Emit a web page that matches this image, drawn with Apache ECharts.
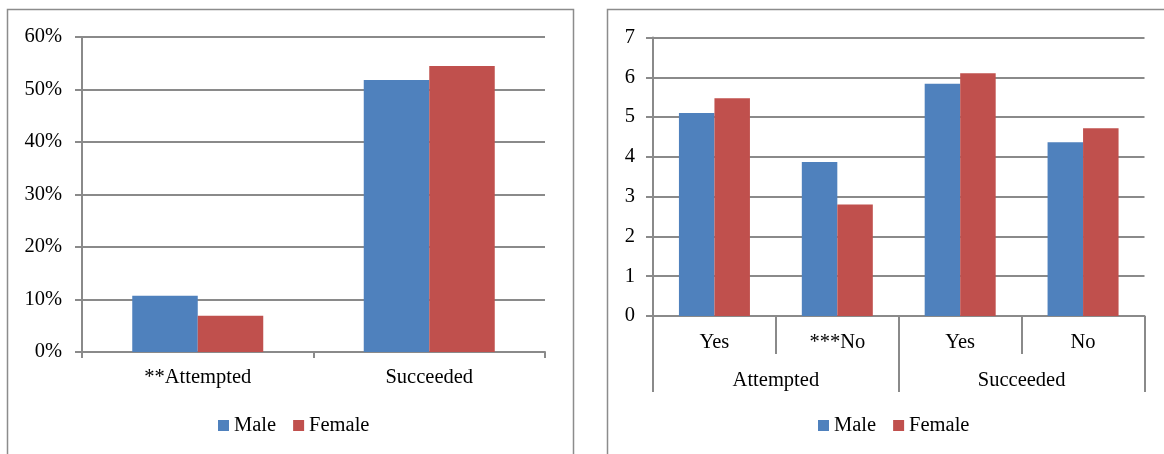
<!DOCTYPE html>
<html>
<head>
<meta charset="utf-8">
<script src="https://cdn.jsdelivr.net/npm/echarts@6/dist/echarts.min.js"></script>
<style>
  html, body { margin: 0; padding: 0; background: #fff; }
  #chart { width: 1164px; height: 454px; }
</style>
</head>
<body>
<div id="chart"></div>
<script>
// Left panel: share of respondents by outcome
const outcomeCategories = ['**Attempted', 'Succeeded'];
const outcomeMale = [0.107, 0.518];
const outcomeFemale = [0.069, 0.545];
const percentTicks = { min: 0, max: 0.6, interval: 0.1 };

// Right panel: mean scores by outcome and answer
const answerCategories = ['Yes', '***No', 'Yes', 'No'];
const answerGroups = ['Attempted', 'Succeeded'];
const scoreMale = [5.10, 3.87, 5.84, 4.37];
const scoreFemale = [5.47, 2.80, 6.10, 4.72];
const scoreTicks = { min: 0, max: 7, interval: 1 };

const seriesNames = ['Male', 'Female'];
const colors = ['#4F81BD', '#C0504D'];

const FONT = "'Liberation Serif', 'Times New Roman', serif";
const GRID_GRAY = '#8a8a8a';
const labelStyle = { color: '#000', fontFamily: FONT, fontSize: 20.5 };

const chart = echarts.init(document.getElementById('chart'), null, { renderer: 'canvas' });

const valueAxisBase = {
  type: 'value',
  axisLine: { show: true, lineStyle: { color: GRID_GRAY, width: 2 } },
  axisTick: { show: true, length: 7, lineStyle: { color: GRID_GRAY, width: 2 } },
  splitLine: { show: true, lineStyle: { color: GRID_GRAY, width: 2 } }
};

chart.setOption({
  animation: false,
  color: colors,
  graphic: [
    { type: 'rect', shape: { x: 7.5, y: 9.5, width: 566, height: 460 },
      style: { fill: 'none', stroke: '#8c8c8c', lineWidth: 1.5 }, silent: true },
    { type: 'rect', shape: { x: 607.5, y: 9.5, width: 580, height: 460 },
      style: { fill: 'none', stroke: '#8c8c8c', lineWidth: 1.5 }, silent: true }
  ],
  grid: [
    { left: 82, right: 619, top: 37, bottom: 102 },
    { left: 653, right: 19.5, top: 37.5, bottom: 138 }
  ],
  legend: [
    { data: seriesNames, left: 218, top: 415, padding: 0, icon: 'rect', itemWidth: 11, itemHeight: 11,
      itemGap: 17, textStyle: labelStyle },
    { data: seriesNames, left: 818, top: 415, padding: 0, icon: 'rect', itemWidth: 11, itemHeight: 11,
      itemGap: 17, textStyle: labelStyle }
  ],
  xAxis: [
    { gridIndex: 0, type: 'category', data: outcomeCategories,
      axisLine: { lineStyle: { color: GRID_GRAY, width: 2 } },
      axisTick: { show: true, length: 6, lineStyle: { color: GRID_GRAY, width: 2 } },
      axisLabel: Object.assign({ margin: 15 }, labelStyle) },
    { gridIndex: 1, type: 'category', data: answerCategories,
      axisLine: { lineStyle: { color: GRID_GRAY, width: 2 } },
      axisTick: { show: true, length: 38, interval: 0, lineStyle: { color: GRID_GRAY, width: 2 } },
      axisLabel: Object.assign({ margin: 16, interval: 0 }, labelStyle) },
    { gridIndex: 1, type: 'category', data: answerGroups, position: 'bottom',
      axisLine: { show: false },
      axisTick: { show: true, length: 76, interval: 0, lineStyle: { color: GRID_GRAY, width: 2 } },
      axisLabel: Object.assign({ margin: 54, interval: 0 }, labelStyle) }
  ],
  yAxis: [
    Object.assign({}, valueAxisBase, percentTicks, {
      gridIndex: 0,
      axisLabel: Object.assign({ margin: 20, formatter: v => Math.round(v * 100) + '%' }, labelStyle)
    }),
    Object.assign({}, valueAxisBase, scoreTicks, {
      gridIndex: 1,
      axisLabel: Object.assign({ margin: 18 }, labelStyle)
    })
  ],
  series: [
    { name: seriesNames[0], type: 'bar', xAxisIndex: 0, yAxisIndex: 0, data: outcomeMale,
      barWidth: 65.5, barGap: '0%', itemStyle: { color: colors[0] } },
    { name: seriesNames[1], type: 'bar', xAxisIndex: 0, yAxisIndex: 0, data: outcomeFemale,
      barWidth: 65.5, barGap: '0%', itemStyle: { color: colors[1] } },
    { name: seriesNames[0], type: 'bar', xAxisIndex: 1, yAxisIndex: 1, data: scoreMale,
      barWidth: 35.5, barGap: '0%', itemStyle: { color: colors[0] } },
    { name: seriesNames[1], type: 'bar', xAxisIndex: 1, yAxisIndex: 1, data: scoreFemale,
      barWidth: 35.5, barGap: '0%', itemStyle: { color: colors[1] } }
  ]
});
</script>
</body>
</html>
